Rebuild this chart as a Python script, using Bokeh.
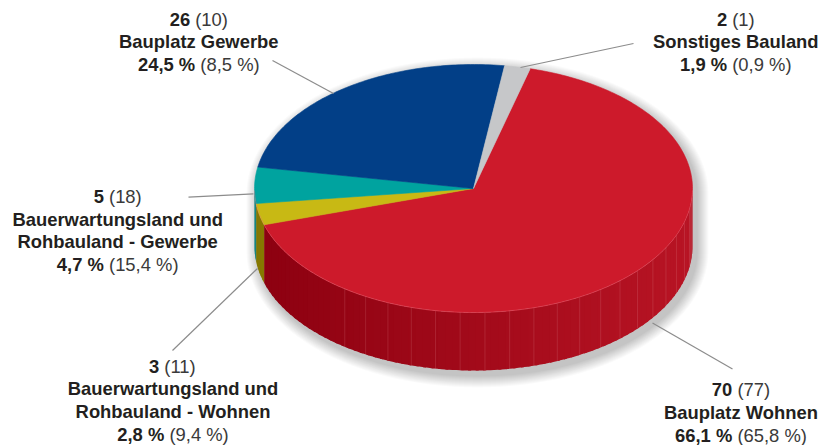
import math
from bokeh.plotting import figure
from bokeh.models import Range1d
from bokeh.core.properties import value
from bokeh.embed import file_html
from bokeh.resources import INLINE

# ---------------- data (clockwise from the top-right) ----------------
categories = [
    "Bauplatz Wohnen",
    "Bauerwartungsland und Rohbauland - Wohnen",
    "Bauerwartungsland und Rohbauland - Gewerbe",
    "Bauplatz Gewerbe",
    "Sonstiges Bauland",
]
counts = [70, 3, 5, 26, 2]
prev_counts = [77, 11, 18, 10, 1]
shares = [66.1, 2.8, 4.7, 24.5, 1.9]
prev_shares = [65.8, 9.4, 15.4, 8.5, 0.9]

# ---------------- styles / layout ----------------
top_colors = ["#CD1A2B", "#C8B914", "#00A39F", "#023F87", "#C6C7C9"]
side_dark = [(140, 0, 16), (133, 119, 0), (0, 123, 120), (1, 42, 92), (142, 143, 145)]
side_light = [(184, 20, 36), (168, 154, 0), (0, 149, 146), (2, 53, 112), (169, 170, 172)]

CX, CY, RX, RY, DEPTH, START = 473.0, 188.0, 219.0, 124.0, 58.0, 75.0

# label anchor (center x, first line middle y) and leader line (x0, y0, x1, y1)
label_pos = [(740.5, 389.4), (172.5, 365.7), (117.2, 196.0), (198.3, 18.5), (735.3, 18.5)]
leaders = [(652, 322.5, 732, 368.5), (257, 268, 172, 350), (253, 193.3, 188, 196.7),
           (333, 93, 272, 60), (520, 67, 633, 43)]

FONT = "Liberation Sans"
FS = 18.4
LINE_H = 22.6
BOLD_COL = "#231F20"
REG_COL = "#3A3A3A"

# Arial / Liberation Sans advance widths (1/1000 em)
W_REG = {" ": 278, "(": 333, ")": 333, ",": 278, "%": 889, ".": 278}
W_BOLD = {" ": 278, "(": 333, ")": 333, ",": 278, "%": 889, ".": 278}
for d in "0123456789":
    W_REG[d] = 556
    W_BOLD[d] = 556


def text_w(s, table):
    return sum(table.get(c, 556) for c in s) / 1000.0 * FS


def pt(t_deg, dy=0.0, rx=RX, ry=RY):
    t = math.radians(t_deg)
    return CX + rx * math.cos(t), CY - ry * math.sin(t) + dy


def mix(c0, c1, f):
    return "#%02x%02x%02x" % tuple(int(round(a + (b - a) * f)) for a, b in zip(c0, c1))


def fmt_pct(v):
    return ("%.1f" % v).replace(".", ",") + " %"


p = figure(width=825, height=445, x_range=Range1d(0, 825), y_range=Range1d(445, 0),
           x_axis_location=None, y_axis_location=None, toolbar_location=None,
           output_backend="svg", min_border=0)
p.grid.visible = False
p.outline_line_color = None
p.background_fill_color = "white"
p.border_fill_color = "white"

# ---------------- shadow ----------------
for k in range(12, 0, -1):
    xs, ys = [], []
    for i in range(0, 181, 3):
        x, y = pt(i, 0, RX + k, RY + k)
        xs.append(x + 4)
        ys.append(y + 5)
    for i in range(180, 361, 3):
        x, y = pt(i, DEPTH, RX + k, RY + k)
        xs.append(x + 4)
        ys.append(y + 5)
    p.patch(xs, ys, fill_color="black", fill_alpha=0.018, line_color=None)

# ---------------- slices ----------------
angles = []
cum = 0.0
for s in shares:
    a0 = START - cum * 3.6
    a1 = START - (cum + s) * 3.6
    angles.append((a1, a0))
    cum += s

# sides (overlapping strips, no strokes -> no seams)
side_xs, side_ys, side_cols = [], [], []
for idx, (a1, a0) in enumerate(angles):
    for k in (-1, 0, 1):
        lo = max(a1, -180 + 360 * k)
        hi = min(a0, 0 + 360 * k)
        if hi <= lo:
            continue
        n = max(1, int(math.ceil((hi - lo) / 2.0)))
        for j in range(n):
            ta = lo + (hi - lo) * j / n
            tb = min(hi, lo + (hi - lo) * (j + 1) / n + 0.8)
            pts_top = [pt(ta + (tb - ta) * q / 3) for q in range(4)]
            f = (1 + math.cos(math.radians((ta + tb) / 2))) / 2
            xs = [q[0] for q in pts_top] + [q[0] for q in reversed(pts_top)]
            ys = [q[1] for q in pts_top] + [q[1] + DEPTH for q in reversed(pts_top)]
            side_xs.append(xs)
            side_ys.append(ys)
            side_cols.append(mix(side_dark[idx], side_light[idx], f))
p.patches(side_xs, side_ys, fill_color=side_cols, line_color=None)

# faint facet lines on the large side
fa1, fa0 = angles[0]
t = -126.0
fx, fy = [], []
while t < -4:
    if fa1 < t < fa0:
        x, y = pt(t)
        fx.append([x, x])
        fy.append([y, y + DEPTH])
    t += 6.5
p.multi_line(fx, fy, line_color="#F0A0A8", line_alpha=0.22, line_width=0.8)

# tops
top_xs, top_ys = [], []
for idx, (a1, a0) in enumerate(angles):
    n = max(2, int(abs(a0 - a1) / 1.0) + 1)
    xs, ys = [CX], [CY]
    for j in range(n + 1):
        x, y = pt(a0 + (a1 - a0) * j / n)
        xs.append(x)
        ys.append(y)
    top_xs.append(xs)
    top_ys.append(ys)
p.patches(top_xs, top_ys, fill_color=top_colors, line_color=top_colors, line_width=0.6)

# rim highlight on front edge
rx_, ry_ = [], []
for i in range(181, 360):
    x, y = pt(i)
    rx_.append(x)
    ry_.append(y)
p.line(rx_, ry_, line_color="#F07080", line_alpha=0.45, line_width=0.8)

# ---------------- leader lines ----------------
p.segment(x0=[l[0] for l in leaders], y0=[l[1] for l in leaders],
          x1=[l[2] for l in leaders], y1=[l[3] for l in leaders],
          line_color="#8C8C8C", line_width=1.2)

# ---------------- labels ----------------
bx, by, bt, ba = [], [], [], []
rxs, rys, rts = [], [], []
space_w = text_w(" ", W_REG)
for i, name in enumerate(categories):
    cxl, y0 = label_pos[i]
    if " und " in name:
        first, rest = name.split(" und ", 1)
        name_lines = [first + " und", rest]
    else:
        name_lines = [name]
    lines = [(str(counts[i]), "(%d)" % prev_counts[i])]
    lines += [(nl, "") for nl in name_lines]
    lines.append((fmt_pct(shares[i]), "(" + fmt_pct(prev_shares[i]) + ")"))
    for li, (b, r) in enumerate(lines):
        y = y0 + li * LINE_H
        if r:
            wb = text_w(b, W_BOLD)
            wr = text_w(r, W_REG)
            xs0 = cxl - (wb + space_w + wr) / 2
            bx.append(xs0); by.append(y); bt.append(b); ba.append("left")
            rxs.append(xs0 + wb + space_w); rys.append(y); rts.append(r)
        else:
            bx.append(cxl); by.append(y); bt.append(b); ba.append("center")

p.text(x=bx, y=by, text=bt, text_align=ba, text_baseline="middle",
       text_font=value(FONT), text_font_style="bold", text_font_size="%.1fpx" % FS,
       text_color=BOLD_COL)
p.text(x=rxs, y=rys, text=rts, text_align="left", text_baseline="middle",
       text_font=value(FONT), text_font_style="normal", text_font_size="%.1fpx" % FS,
       text_color=REG_COL)

open("out.html", "w").write(file_html(p, INLINE))
